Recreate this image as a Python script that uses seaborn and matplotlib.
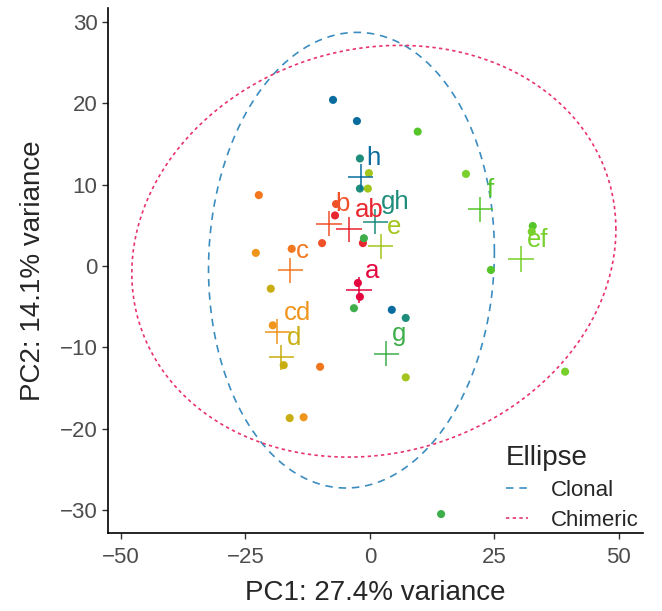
import numpy as np
import pandas as pd
import seaborn as sns
import matplotlib
matplotlib.use('Agg')
import matplotlib.pyplot as plt

# sample scores on PC1 / PC2
groups = ['h', 'h', 'h', 'gh', 'gh', 'gh', 'e', 'e', 'e', 'ab', 'ab', 'b', 'b', 'a', 'a',
          'c', 'c', 'c', 'cd', 'cd', 'cd', 'd', 'd', 'd', 'g', 'g', 'g',
          'f', 'f', 'f', 'ef', 'ef', 'ef']
pc1 = [-7.4, -2.6, 4.4, -2.0, -2.0, 7.2, -0.2, -0.4, 7.2, -7.0, -1.4, -6.8, -9.6, -2.4, -2.0,
       -15.7, -22.3, -10.0, -22.9, -19.5, -13.3, -19.9, -17.3, -16.1, -1.2, -3.2, 14.3,
       9.6, 32.7, 24.3, 19.3, 32.5, 39.2]
pc2 = [20.4, 17.8, -5.4, 13.2, 9.5, -6.4, 11.4, 9.5, -13.7, 6.2, 2.8, 7.6, 2.8, -2.1, -3.8,
       2.1, 8.7, -12.4, 1.6, -7.3, -18.6, -2.8, -12.2, -18.7, 3.4, -5.2, -30.5,
       16.5, 4.9, -0.5, 11.3, 4.2, -13.0]

group_order = ['a', 'ab', 'b', 'c', 'cd', 'd', 'e', 'ef', 'f', 'g', 'gh', 'h']
group_colors = ['#E4073F', '#E8262F', '#EF5128', '#F2771F', '#F0951C', '#C8AE12',
                '#A3C61C', '#77D02B', '#55C52A', '#3DAE4A', '#1F8D7B', '#0A6C9E']

# ellipse parameters: centre, sd along x, sd along y, covariance (data units)
ell_names = ['Clonal', 'Chimeric']
ell_center = [(-3.7, 0.7), (0.8, 1.8)]
ell_sd = [(28.7, 28.0), (48.6, 25.3)]
ell_cov = [31.0, 131.6]
ell_colors = ['#3B8DC0', '#E8336B']
ell_dash = [(4.5, 3.5), (2, 2)]

x_label = 'PC1: 27.4% variance'
y_label = 'PC2: 14.1% variance'

df = pd.DataFrame({'group': groups, 'PC1': pc1, 'PC2': pc2})
df['group'] = pd.Categorical(df['group'], categories=group_order)
cent = df.groupby('group', observed=True)[['PC1', 'PC2']].mean().reset_index()
pal = dict(zip(group_order, group_colors))

sns.set_style('ticks')
plt.rcParams['font.family'] = ['Liberation Sans', 'DejaVu Sans']

fig = plt.figure(figsize=(6.62, 6.11), dpi=100)
ax = fig.add_axes([0.163, 0.128, 0.808, 0.859])

t = np.linspace(0, 2 * np.pi, 300)
for name, c, sd, cv, col, dsh in zip(ell_names, ell_center, ell_sd, ell_cov, ell_colors, ell_dash):
  M = np.array([[sd[0] ** 2, cv], [cv, sd[1] ** 2]])
  L = np.linalg.cholesky(M)
  pts = L @ np.vstack([np.cos(t), np.sin(t)])
  ax.plot(c[0] + pts[0], c[1] + pts[1], color=col, lw=1.2, dashes=dsh, label=name)

sns.scatterplot(data=df, x='PC1', y='PC2', hue='group', palette=pal, s=34,
                linewidth=0, legend=False, ax=ax, zorder=3)
sns.scatterplot(data=cent, x='PC1', y='PC2', hue='group', palette=pal, marker='+',
                s=330, linewidth=1.1, legend=False, ax=ax, zorder=4)

for _, row in cent.iterrows():
  ax.annotate(row['group'], (row['PC1'], row['PC2']), xytext=(4.3, 8.8),
              textcoords='offset points', ha='left', va='baseline',
              fontsize=18.5, color=pal[row['group']], zorder=5)

ax.set_xlim(-52.6, 54.8)
ax.set_ylim(-32.8, 31.7)
ax.set_xticks([-50, -25, 0, 25, 50])
ax.set_yticks([-30, -20, -10, 0, 10, 20, 30])
ax.set_xlabel(x_label, fontsize=20, labelpad=9)
ax.set_ylabel(y_label, fontsize=20, labelpad=10)
ax.tick_params(labelsize=16, labelcolor='#4D4D4D', color='#333333', length=4, width=1)
ax.tick_params(axis='x', pad=6)
for s in ['top', 'right']:
  ax.spines[s].set_visible(False)
for s in ['left', 'bottom']:
  ax.spines[s].set_linewidth(1.2)
  ax.spines[s].set_color('black')

leg = ax.legend(title='Ellipse', loc='lower right', bbox_to_anchor=(1.0, -0.005),
                frameon=False, fontsize=16, title_fontsize=20, handlelength=1.0,
                handletextpad=1.0, borderaxespad=0.0, borderpad=0.2,
                labelspacing=0.4, alignment='left')

plt.savefig('out.png', dpi=100)
